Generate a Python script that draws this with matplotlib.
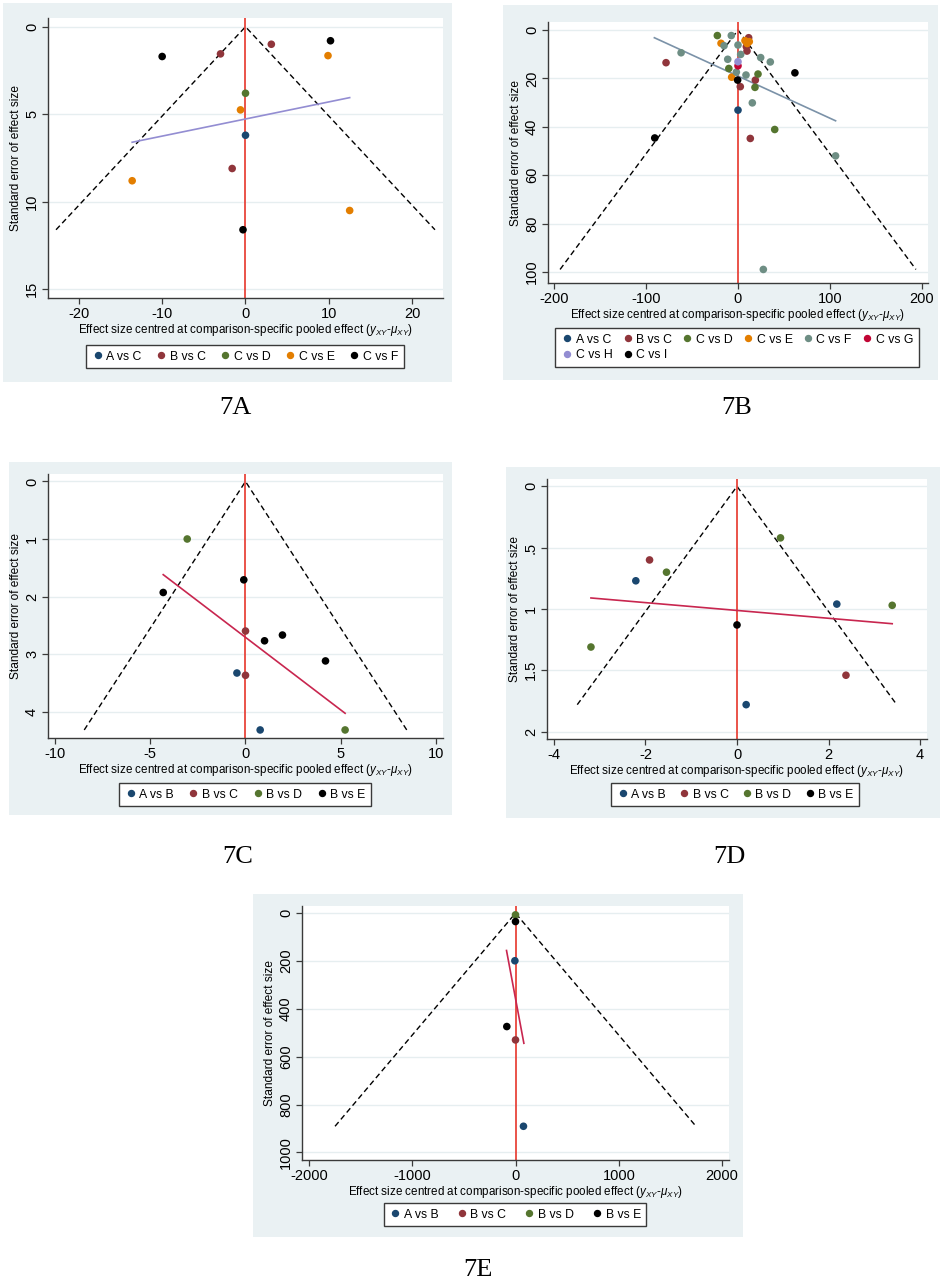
import matplotlib
matplotlib.use("Agg")
import matplotlib.pyplot as plt
from matplotlib.lines import Line2D
from matplotlib.patches import Rectangle

plt.rcParams['font.family'] = ['Liberation Sans', 'DejaVu Sans']
plt.rcParams['mathtext.fontset'] = 'custom'
plt.rcParams['mathtext.it'] = 'Liberation Sans:italic'
plt.rcParams['mathtext.rm'] = 'Liberation Sans'
plt.rcParams['axes.unicode_minus'] = False

W, H = 943, 1286

# Stata s2color palette
colors = {
    "navy": "#1A476F", "maroon": "#90353B", "forest": "#55752F",
    "dkorange": "#E37E00", "teal": "#6E8E84", "cranberry": "#C10534",
    "lavender": "#938DD2", "black": "#000000",
}

# ---- 7A ----
a_labels = ["A vs C", "B vs C", "C vs D", "C vs E", "C vs F"]
a_x = [[0.0], [-3.0, 3.1, -1.6], [0.0], [9.9, -0.6, -13.6, 12.5], [-10.0, 10.2, -0.3]]
a_se = [[6.2], [1.55, 1.0, 8.1], [3.8], [1.65, 4.75, 8.8, 10.5], [1.7, 0.8, 11.6]]
a_fit_x = [-13.6, 12.5]
a_fit_se = [6.6, 4.05]

# ---- 7B ----
b_labels = ["A vs C", "B vs C", "C vs D", "C vs E", "C vs F", "C vs G", "C vs H", "C vs I"]
b_x = [
    [0.0],
    [-78.4, 11.6, 9.1, 9.8, 18.9, 2.5, 13.4],
    [-22.5, -10.0, 21.8, 18.5, 40.0],
    [-18.5, 7.6, 12.3, 10.0, -6.9],
    [-7.3, -15.2, -62.0, 0.0, 2.9, -11.2, 24.7, 35.2, -1.8, 8.7, 15.6, 106.3, 27.6],
    [0.0],
    [0.0],
    [-0.4, 62.0, -90.7],
]
b_se = [
    [33.1],
    [13.5, 3.2, 6.9, 8.7, 20.7, 23.4, 44.8],
    [2.3, 15.9, 18.2, 23.7, 41.1],
    [5.5, 4.4, 4.8, 5.6, 19.5],
    [2.3, 6.5, 9.4, 6.2, 10.1, 12.1, 11.4, 13.2, 17.4, 18.6, 30.1, 52.0, 98.9],
    [14.8],
    [13.1],
    [20.7, 17.7, 44.6],
]
b_fit_x = [-91.1, 106.3]
b_fit_se = [3.2, 37.5]

# ---- 7C ----
c_labels = ["A vs B", "B vs C", "B vs D", "B vs E"]
c_x = [[-0.45, 0.77], [0.0, 0.0], [-3.06, 5.23], [-4.32, -0.09, 1.0, 1.94, 4.2]]
c_se = [[3.33, 4.32], [2.6, 3.37], [1.0, 4.32], [1.93, 1.71, 2.77, 2.67, 3.12]]
c_fit_x = [-4.32, 5.23]
c_fit_se = [1.62, 4.03]

# ---- 7D ----
d_labels = ["A vs B", "B vs C", "B vs D", "B vs E"]
d_x = [[-2.21, 2.18, 0.2], [-1.91, 2.38], [0.95, -1.54, 3.39, -3.19], [0.0]]
d_se = [[0.77, 0.96, 1.78], [0.60, 1.54], [0.42, 0.70, 0.97, 1.31], [1.13]]
d_fit_x = [-3.19, 3.39]
d_fit_se = [0.91, 1.12]

# ---- 7E ----
e_labels = ["A vs B", "B vs C", "B vs D", "B vs E"]
e_x = [[-6.0, 77.0], [0.0], [0.0], [0.0, -84.0]]
e_se = [[199.0, 891.0], [530.0], [7.0], [35.0, 474.0]]
e_fit_x = [-87.0, 81.0]
e_fit_se = [156.0, 544.0]

a_cols = ["navy", "maroon", "forest", "dkorange", "black"]
b_cols = ["navy", "maroon", "forest", "dkorange", "teal", "cranberry", "lavender", "black"]
four = ["navy", "maroon", "forest", "black"]

XLABEL = r"Effect size centred at comparison-specific pooled effect ($y_{XY}$-$\mu_{XY}$)"


def box(l, t, r, b):
    return [l / W, 1 - b / H, (r - l) / W, (b - t) / H]


def draw_panel(fig, bg, rect, xs, ses, labels, cols, fit_x, fit_se, fit_col,
               xlim, ylim, xticks, yticks, yticklabels, leg_xy, ncol, order, colsp,
               tag, tag_xy):
    fig.patches.append(Rectangle((bg[0] / W, 1 - bg[3] / H), (bg[2] - bg[0]) / W,
                                 (bg[3] - bg[1]) / H, transform=fig.transFigure,
                                 facecolor="#EAF1F3", edgecolor="none", zorder=-10))
    ax = fig.add_axes(box(*rect))
    ax.set_facecolor("white")
    for s in ["top", "right"]:
        ax.spines[s].set_visible(False)
    for s in ["left", "bottom"]:
        ax.spines[s].set_color("#3a3a3a")
        ax.spines[s].set_linewidth(1.0)

    for yt in yticks:
        ax.axhline(yt, color="#E6EEF0", lw=1.0, zorder=0)

    maxse = max(max(s) for s in ses)
    ax.plot([-1.96 * maxse, 0, 1.96 * maxse], [maxse, 0, maxse], color="black",
            lw=1.0, dashes=(4, 2.5), zorder=2)
    ax.axvline(0, color="#E8453C", lw=1.3, zorder=2)
    ax.plot(fit_x, fit_se, color=fit_col, lw=1.2, zorder=3)

    for x, s, c in zip(xs, ses, cols):
        ax.scatter(x, s, s=30, color=colors[c], edgecolors="none", zorder=4)

    ax.set_xlim(*xlim)
    ax.set_ylim(*ylim)
    ax.set_xticks(xticks)
    ax.set_yticks(yticks)
    ax.set_yticklabels(yticklabels, rotation=90, va="center")
    ax.tick_params(axis="both", labelsize=10.5, length=4, width=0.9, color="#3a3a3a", pad=2.5)
    ax.set_xlabel(XLABEL, fontsize=8.4, labelpad=1)
    ax.set_ylabel("Standard error of effect size", fontsize=8.6, labelpad=2)

    handles = [Line2D([], [], marker="o", ls="none", color=colors[c], markersize=4.3)
               for c in cols]
    handles = [handles[i] for i in order]
    labs = [labels[i] for i in order]
    fig.legend(handles, labs, loc="upper center",
               bbox_to_anchor=(leg_xy[0] / W, 1 - leg_xy[1] / H), ncol=ncol,
               fontsize=8.8, frameon=True, fancybox=False, edgecolor="#3a3a3a",
               framealpha=1, handletextpad=0.2, columnspacing=colsp, borderpad=0.45,
               handlelength=1.0, labelspacing=0.3)
    fig.text(tag_xy[0] / W, 1 - tag_xy[1] / H, tag, ha="center", va="center",
             fontsize=19, family="Liberation Serif")
    return ax


fig = plt.figure(figsize=(W / 100, H / 100), dpi=100)

draw_panel(fig, (3, 3, 452, 382), (48, 18, 443, 298), a_x, a_se, a_labels, a_cols,
           a_fit_x, a_fit_se, colors["lavender"], (-23.7, 23.7), (15.5, -0.5),
           [-20, -10, 0, 10, 20], [0, 5, 10, 15], ["0", "5", "10", "15"],
           (245, 339), 5, list(range(5)), 1.1, "7A", (235, 408))

draw_panel(fig, (503, 5, 938, 380), (548, 22, 928, 283), b_x, b_se, b_labels, b_cols,
           b_fit_x, b_fit_se, "#7B92A8", (-207, 207), (104.5, -3.3),
           [-200, -100, 0, 100, 200], [0, 20, 40, 60, 80, 100],
           ["0", "20", "40", "60", "80", "100"],
           (737, 322), 6, [0, 6, 1, 7, 2, 3, 4, 5], 0.75, "7B", (737, 408))

draw_panel(fig, (9, 462, 452, 815), (48, 474, 443, 738), c_x, c_se, c_labels, four,
           c_fit_x, c_fit_se, "#C8264F", (-10.37, 10.37), (4.46, -0.13),
           [-10, -5, 0, 5, 10], [0, 1, 2, 3, 4], ["0", "1", "2", "3", "4"],
           (245, 777), 4, list(range(4)), 1.1, "7C", (238, 857))

draw_panel(fig, (506, 467, 940, 818), (547, 479, 927, 739), d_x, d_se, d_labels, four,
           d_fit_x, d_fit_se, "#C8264F", (-4.15, 4.15), (2.06, -0.06),
           [-4, -2, 0, 2, 4], [0, 0.5, 1, 1.5, 2], ["0", ".5", "1", "1.5", "2"],
           (735, 777), 4, list(range(4)), 1.0, "7D", (729, 857))

draw_panel(fig, (253, 894, 743, 1237), (302, 906, 729, 1160), e_x, e_se, e_labels, four,
           e_fit_x, e_fit_se, "#C8264F", (-2066, 2066), (1032, -30),
           [-2000, -1000, 0, 1000, 2000], [0, 200, 400, 600, 800, 1000],
           ["0", "200", "400", "600", "800", "1000"],
           (515, 1197), 4, list(range(4)), 1.4, "7E", (478, 1270))

fig.savefig("out.png", dpi=100)
